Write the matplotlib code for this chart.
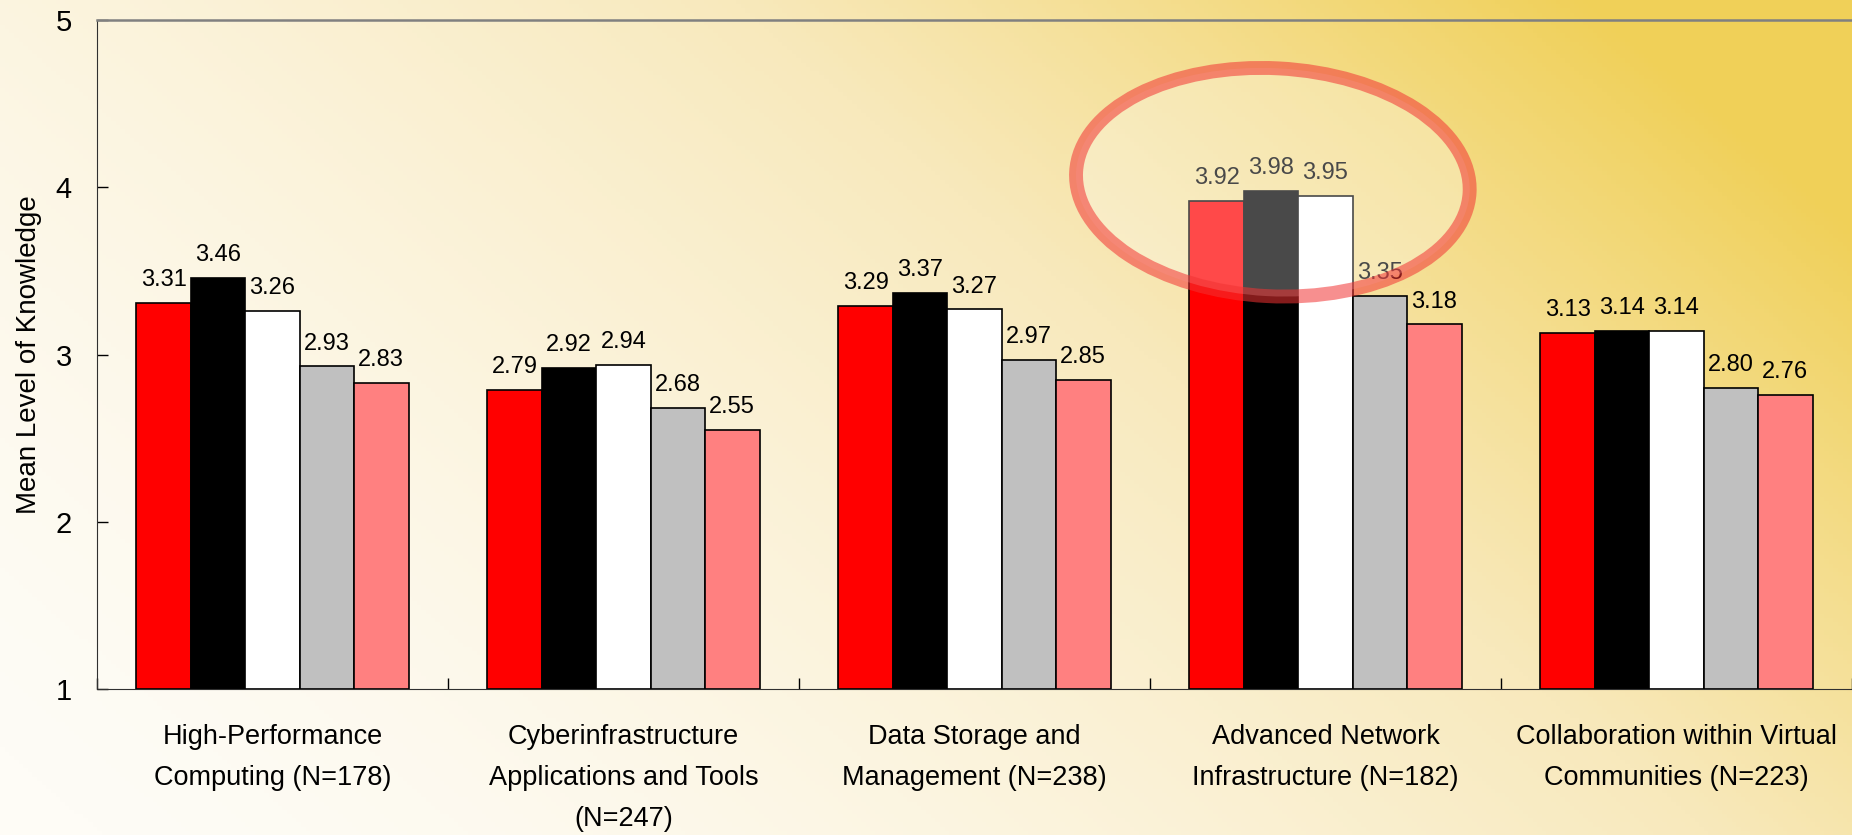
import numpy as np
import matplotlib
matplotlib.use("Agg")
import matplotlib.pyplot as plt
from matplotlib.patches import Ellipse
from matplotlib.colors import LinearSegmentedColormap
import matplotlib.transforms as mtransforms

# data
categories = ["High-Performance\nComputing (N=178)",
              "Cyberinfrastructure\nApplications and Tools\n(N=247)",
              "Data Storage and\nManagement (N=238)",
              "Advanced Network\nInfrastructure (N=182)",
              "Collaboration within Virtual\nCommunities (N=223)"]
s_red = [3.31, 2.79, 3.29, 3.92, 3.13]
s_black = [3.46, 2.92, 3.37, 3.98, 3.14]
s_white = [3.26, 2.94, 3.27, 3.95, 3.14]
s_gray = [2.93, 2.68, 2.97, 3.35, 2.80]
s_pink = [2.83, 2.55, 2.85, 3.18, 2.76]
series = [s_red, s_black, s_white, s_gray, s_pink]
colors = ["#ff0000", "#000000", "#ffffff", "#c0c0c0", "#ff8080"]
yticks = [1, 2, 3, 4, 5]

narrow = ["Liberation Sans Narrow", "Liberation Sans", "DejaVu Sans"]
regular = ["Liberation Sans", "DejaVu Sans"]

fig = plt.figure(figsize=(18.52, 8.35), dpi=100)

# background gradient, pale at bottom left, yellow at top right
bg = fig.add_axes([0, 0, 1, 1], zorder=-10)
gx, gy = np.meshgrid(np.linspace(0, 1, 400), np.linspace(0, 1, 200))
t = np.clip(0.72 * gx + 0.38 * gy, 0, 1) ** 1.7
cmap = LinearSegmentedColormap.from_list("bg", ["#fefcf6", "#f8e9bc", "#f0d058"])
bg.imshow(t, cmap=cmap, origin="lower", extent=[0, 1, 0, 1], aspect="auto", vmin=0, vmax=1)
bg.axis("off")

ax = fig.add_axes([97 / 1852, 1 - 689 / 835, 1 - 97 / 1852, (689 - 20) / 835])
ax.patch.set_alpha(0)

x = np.arange(len(categories))
w = 0.155
for i, (vals, c) in enumerate(zip(series, colors)):
    pos = x + (i - 2) * w
    ax.bar(pos, np.array(vals) - 1, bottom=1, width=w, color=c,
           edgecolor="black", linewidth=1.2, zorder=2)
    for p, v in zip(pos, vals):
        ax.text(p, v + 0.07, f"{v:.2f}", ha="center", va="bottom",
                fontsize=17, family=narrow, color="black", zorder=3)

ax.set_xlim(-0.5, len(categories) - 0.5)
ax.set_ylim(1, 5)
ax.set_yticks(yticks)
ax.set_yticklabels([str(v) for v in yticks], family=regular, fontsize=21)
ax.set_xticks(x)
ax.set_xticklabels(categories, family=narrow, fontsize=19.5, linespacing=1.75, va="top")
ax.set_xticks(np.arange(len(categories) + 1) - 0.5, minor=True)
ax.tick_params(axis="x", which="major", length=0, pad=25)
ax.tick_params(axis="x", which="minor", direction="in", length=8, width=1)
ax.tick_params(axis="y", direction="in", length=8, width=1, pad=18)
ax.set_ylabel("Mean Level of Knowledge", family=narrow, fontsize=20, labelpad=10)

ax.spines["right"].set_visible(False)
ax.spines["top"].set_color("#808080")
ax.spines["top"].set_linewidth(1.8)
ax.spines["left"].set_color("#303030")
ax.spines["bottom"].set_color("#303030")

# highlight ellipse around the network infrastructure group
fig.canvas.draw()
cx, cy = ax.transData.transform((2.85, 4.03))
ell = Ellipse((cx, cy), width=394, height=228, angle=-3,
              transform=mtransforms.IdentityTransform(),
              facecolor=(1, 1, 1, 0.29), edgecolor=(0.95, 0.2, 0.2, 0.55),
              linewidth=10, zorder=5, clip_on=False)
ax.add_patch(ell)

fig.savefig("out.png", dpi=100)
